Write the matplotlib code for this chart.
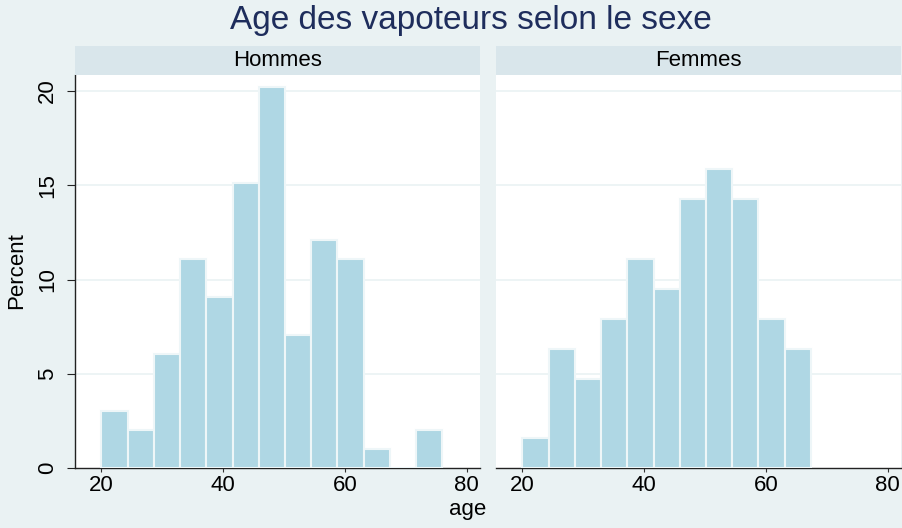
import matplotlib
matplotlib.use("Agg")
import matplotlib.pyplot as plt

# ---- data ----
bin_edges = [20.0, 24.31, 28.62, 32.92, 37.23, 41.54, 45.85, 50.15, 54.46, 58.77, 63.08, 67.38, 71.69, 76.0]
hommes_pct = [3.03, 2.02, 6.06, 11.11, 9.09, 15.15, 20.20, 7.07, 12.12, 11.11, 1.01, 0.0, 2.02]
femmes_pct = [1.59, 6.35, 4.76, 7.94, 11.11, 9.52, 14.29, 15.87, 14.29, 7.94, 6.35]
panels = ["Hommes", "Femmes"]
x_ticks = [20, 40, 60, 80]
y_ticks = [0, 5, 10, 15, 20]
title = "Age des vapoteurs selon le sexe"
xlabel = "age"
ylabel = "Percent"

plt.rcParams['font.family'] = ['Liberation Sans', 'DejaVu Sans']

BG = "#eaf2f3"
STRIP = "#d9e6eb"
BAR = "#afd7e4"
EDGE = "#eef6f8"
TITLE_C = "#1e2d5c"

W, H = 903, 528
fig = plt.figure(figsize=(W / 100, H / 100), dpi=100, facecolor=BG)

def fx(px):
    return px / W

def fy(py):
    return 1 - py / H

panel_left = [75, 496]
panel_w = 405
top, bottom = 75, 468.3
strip_top = 46

series = [hommes_pct, femmes_pct]
for i, name in enumerate(panels):
    ax = fig.add_axes([fx(panel_left[i]), fy(bottom), fx(panel_w), (bottom - top) / H])
    ax.set_facecolor("white")
    vals = series[i]
    lefts = bin_edges[:len(vals)]
    widths = [bin_edges[k + 1] - bin_edges[k] for k in range(len(vals))]
    ax.bar(lefts, vals, width=widths, align="edge", color=BAR, edgecolor=EDGE,
           linewidth=1.5, zorder=3)
    ax.set_xlim(15.65, 82.2)
    ax.set_ylim(0, 20.85)
    for yv in y_ticks[1:]:
        ax.axhline(yv, color=BG, lw=1.2, zorder=1)
    ax.set_xticks(x_ticks)
    ax.set_xticklabels([str(t) for t in x_ticks], fontsize=16)
    ax.tick_params(axis="x", length=3, width=0.8, color="#333333", pad=1.5)
    for s in ["top", "right"]:
        ax.spines[s].set_visible(False)
    ax.spines["bottom"].set_color("#222222")
    ax.spines["bottom"].set_linewidth(1.0)
    if i == 0:
        ax.set_yticks(y_ticks)
        ax.set_yticklabels([str(t) for t in y_ticks], fontsize=16, rotation=90, va="center")
        ax.tick_params(axis="y", length=6, width=0.8, color="#222222", pad=6)
        ax.spines["left"].set_color("#222222")
        ax.spines["left"].set_linewidth(1.0)
    else:
        ax.set_yticks([])
        ax.spines["left"].set_visible(False)
    # strip
    sax = fig.add_axes([fx(panel_left[i]), fy(top), fx(panel_w), (top - strip_top) / H])
    sax.set_facecolor(STRIP)
    sax.set_xticks([])
    sax.set_yticks([])
    for s in sax.spines.values():
        s.set_visible(False)
    sax.text(0.5, 0.5, name, ha="center", va="center", fontsize=16, transform=sax.transAxes)

fig.text(fx(471), fy(20), title, ha="center", va="center", fontsize=24, color=TITLE_C)
fig.text(fx(468), fy(510), xlabel, ha="center", va="center", fontsize=16)
fig.text(fx(17), fy(271), ylabel, ha="center", va="center", fontsize=16, rotation=90)

fig.savefig("out.png", dpi=100, facecolor=BG)
